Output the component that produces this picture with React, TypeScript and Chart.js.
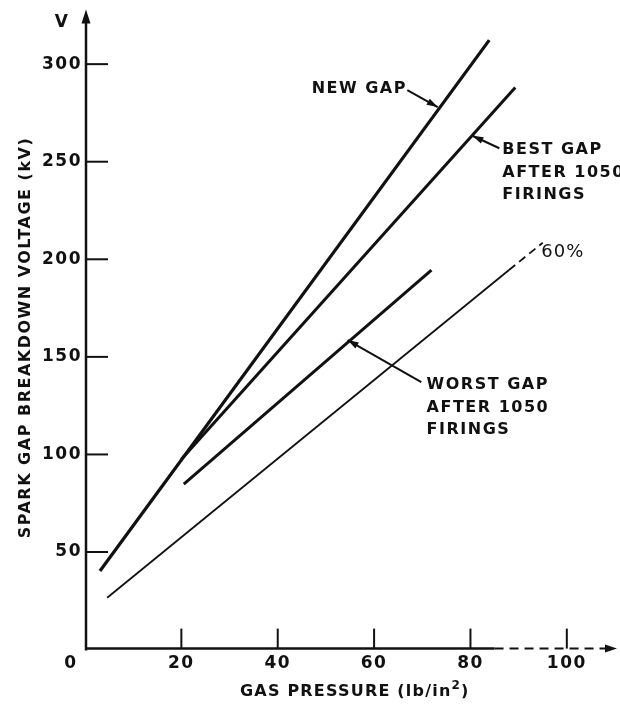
import React, { useEffect, useRef } from "react";
import { Chart, registerables } from "chart.js";

Chart.register(...registerables);

// Spark gap breakdown voltage (kV) against gas pressure (lb/in²)
const newGapPressure = [3.1, 83.9];
const newGapVoltage = [40.3, 312.3];
const bestGapPressure = [20, 89.3];
const bestGapVoltage = [97.5, 288];
const worstGapPressure = [20.5, 71.9];
const worstGapVoltage = [84.8, 194.4];
const sixtyPressure = [4.6, 88, 95];
const sixtyVoltage = [26.6, 194.5, 208.5];

const xTickValues = [20, 40, 60, 80, 100];
const yTickValues = [50, 100, 150, 200, 250, 300];

const X_MAX = 110;
const Y_MAX = 328;

type Callout = {
  lines: string[];
  x: number;
  y: number;
  from: [number, number];
  to: [number, number];
};

// Labels with leader arrows, placed in data units
const callouts: Callout[] = [
  { lines: ["NEW GAP"], x: 47.05, y: 287.2, from: [66.9, 286.7], to: [73.2, 278] },
  { lines: ["BEST GAP", "AFTER 1050", "FIRINGS"], x: 86.6, y: 255.9, from: [86.0, 256.9], to: [80.4, 263.3] },
  { lines: ["WORST GAP", "AFTER 1050", "FIRINGS"], x: 70.9, y: 135.6, from: [69.8, 137.1], to: [54.5, 158.6] },
];
const sixtyLabel = { text: "60%", x: 94.7, y: 203.7 };

const INK = "#111111";
const FONT = '"DejaVu Sans", sans-serif';

const pairs = (xs: number[], ys: number[]) => xs.map((x, i) => ({ x, y: ys[i] }));

function arrowHead(ctx: CanvasRenderingContext2D, fx: number, fy: number, tx: number, ty: number, len: number, half: number) {
  const a = Math.atan2(ty - fy, tx - fx);
  const bx = tx - len * Math.cos(a);
  const by = ty - len * Math.sin(a);
  ctx.beginPath();
  ctx.moveTo(tx, ty);
  ctx.lineTo(bx + half * Math.sin(a), by - half * Math.cos(a));
  ctx.lineTo(bx - half * Math.sin(a), by + half * Math.cos(a));
  ctx.closePath();
  ctx.fill();
}

const decorPlugin = {
  id: "decor",
  afterDatasetsDraw(chart: any) {
    const ctx: CanvasRenderingContext2D = chart.ctx;
    const xs = chart.scales.x;
    const ys = chart.scales.y;
    const x0 = xs.getPixelForValue(0);
    const y0 = ys.getPixelForValue(0);
    const top = ys.getPixelForValue(Y_MAX);
    const right = xs.getPixelForValue(X_MAX) + 2;

    ctx.save();
    ctx.strokeStyle = INK;
    ctx.fillStyle = INK;
    ctx.lineCap = "butt";

    // vertical axis with arrow
    ctx.lineWidth = 2.5;
    ctx.beginPath();
    ctx.moveTo(x0 + 1, y0 + 1);
    ctx.lineTo(x0 + 1, top + 10);
    ctx.stroke();
    arrowHead(ctx, x0 + 1, top + 20, x0 + 1, top, 14, 4.5);

    // horizontal axis: solid, then a broken run toward the arrow
    const xSolidEnd = xs.getPixelForValue(85);
    ctx.beginPath();
    ctx.moveTo(x0, y0 - 1);
    ctx.lineTo(xSolidEnd, y0 - 1);
    ctx.stroke();
    ctx.setLineDash([9, 6]);
    ctx.lineWidth = 2;
    ctx.beginPath();
    ctx.moveTo(xSolidEnd, y0 - 1);
    ctx.lineTo(right - 10, y0 - 1);
    ctx.stroke();
    ctx.setLineDash([]);
    arrowHead(ctx, right - 20, y0 - 1, right, y0 - 1, 12, 4);

    // inward tick marks
    ctx.lineWidth = 2;
    yTickValues.forEach((v) => {
      const py = ys.getPixelForValue(v);
      ctx.beginPath();
      ctx.moveTo(x0 + 1, py);
      ctx.lineTo(x0 + 23, py);
      ctx.stroke();
    });
    xTickValues.forEach((v) => {
      const px = xs.getPixelForValue(v);
      ctx.beginPath();
      ctx.moveTo(px, y0 - 1);
      ctx.lineTo(px, y0 - 21);
      ctx.stroke();
    });

    // tick labels
    ctx.font = `bold 17px ${FONT}`;
    (ctx as any).letterSpacing = "1.5px";
    ctx.textBaseline = "middle";
    ctx.textAlign = "right";
    yTickValues.forEach((v) => {
      ctx.fillText(String(v), x0 - 3, ys.getPixelForValue(v));
    });
    ctx.textAlign = "center";
    xTickValues.forEach((v) => {
      ctx.fillText(String(v), xs.getPixelForValue(v), y0 + 14);
    });
    ctx.fillText("0", x0 - 14, y0 + 14);
    ctx.fillText("V", x0 - 23, top + 13);

    // axis titles
    ctx.font = `bold 16px ${FONT}`;
    ctx.save();
    ctx.translate(26, (ys.getPixelForValue(0) + top) / 2 + 8);
    ctx.rotate(-Math.PI / 2);
    (ctx as any).letterSpacing = "1.5px";
    ctx.textAlign = "center";
    ctx.fillText("SPARK GAP BREAKDOWN VOLTAGE (kV)", 0, 0);
    ctx.restore();

    (ctx as any).letterSpacing = "1.2px";
    ctx.textAlign = "left";
    const tx = 240;
    const ty = y0 + 42;
    const main = "GAS PRESSURE (lb/in";
    ctx.fillText(main, tx, ty);
    const w1 = ctx.measureText(main).width;
    ctx.font = `bold 12px ${FONT}`;
    ctx.fillText("2", tx + w1, ty - 6);
    const w2 = ctx.measureText("2").width;
    ctx.font = `bold 16px ${FONT}`;
    ctx.fillText(")", tx + w1 + w2, ty);

    // callouts
    (ctx as any).letterSpacing = "1.5px";
    ctx.textAlign = "left";
    callouts.forEach((c) => {
      const lx = xs.getPixelForValue(c.x);
      const ly = ys.getPixelForValue(c.y);
      c.lines.forEach((t, i) => ctx.fillText(t, lx, ly + i * 22.5));
      const fx = xs.getPixelForValue(c.from[0]);
      const fy = ys.getPixelForValue(c.from[1]);
      const ex = xs.getPixelForValue(c.to[0]);
      const ey = ys.getPixelForValue(c.to[1]);
      ctx.lineWidth = 2;
      ctx.beginPath();
      ctx.moveTo(fx, fy);
      ctx.lineTo(ex, ey);
      ctx.stroke();
      arrowHead(ctx, fx, fy, ex, ey, 11, 3.5);
    });

    ctx.font = `18px ${FONT}`;
    (ctx as any).letterSpacing = "1px";
    ctx.fillText(sixtyLabel.text, xs.getPixelForValue(sixtyLabel.x), ys.getPixelForValue(sixtyLabel.y));

    ctx.restore();
  },
};

export default function App() {
  const canvasRef = useRef<HTMLCanvasElement | null>(null);

  useEffect(() => {
    const canvas = canvasRef.current;
    if (!canvas) return;
    const chart = new Chart(canvas, {
      type: "line",
      data: {
        datasets: [
          { label: "New gap", data: pairs(newGapPressure, newGapVoltage), borderColor: INK, borderWidth: 3.2 },
          { label: "Best gap after 1050 firings", data: pairs(bestGapPressure, bestGapVoltage), borderColor: INK, borderWidth: 3 },
          { label: "Worst gap after 1050 firings", data: pairs(worstGapPressure, worstGapVoltage), borderColor: INK, borderWidth: 3 },
          {
            label: "60%",
            data: pairs(sixtyPressure, sixtyVoltage),
            borderColor: INK,
            borderWidth: 1.8,
            segment: {
              borderDash: (c: any) => (c.p0DataIndex >= 1 ? [8, 5] : undefined),
            },
          },
        ],
      },
      options: {
        animation: false,
        responsive: false,
        maintainAspectRatio: false,
        elements: { point: { radius: 0, hoverRadius: 0 }, line: { tension: 0, borderCapStyle: "butt" } },
        layout: { padding: { left: 85, right: 5, top: 9.5, bottom: 58.4 } },
        plugins: { legend: { display: false }, tooltip: { enabled: false } },
        events: [],
        scales: {
          x: { type: "linear", min: 0, max: X_MAX, display: false },
          y: { type: "linear", min: 0, max: Y_MAX, display: false },
        },
      },
      plugins: [decorPlugin],
    });
    return () => chart.destroy();
  }, []);

  return (
    <div style={{ position: "fixed", left: 0, top: 0, width: 620, height: 708, background: "#ffffff" }}>
      <canvas ref={canvasRef} width={620} height={708} style={{ width: 620, height: 708, display: "block" }} />
    </div>
  );
}
